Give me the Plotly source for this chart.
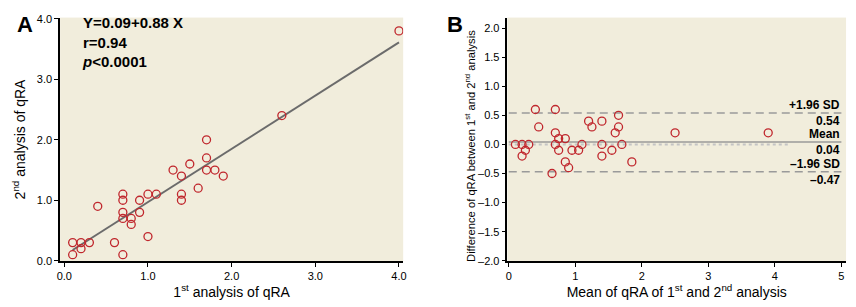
import plotly.graph_objects as go

# Panel A data: 1st vs 2nd analysis of qRA
first_analysis = [0.1, 0.1, 0.2, 0.2, 0.3, 0.4, 0.6, 0.7, 0.7, 0.7, 0.7, 0.7, 0.8, 0.8, 0.9, 0.9,
                  1.0, 1.0, 1.1, 1.3, 1.4, 1.4, 1.4, 1.5, 1.6, 1.7, 1.7, 1.7, 1.8, 1.9, 2.6, 4.0]
second_analysis = [0.3, 0.1, 0.3, 0.2, 0.3, 0.9, 0.3, 1.1, 1.0, 0.8, 0.7, 0.1, 0.7, 0.6, 0.8, 1.0,
                   1.1, 0.4, 1.1, 1.5, 1.4, 1.1, 1.0, 1.6, 1.2, 2.0, 1.7, 1.5, 1.5, 1.4, 2.4, 3.8]
intercept = 0.09
slope = 0.88
fit_x = [0.1, 4.0]

# Panel B data: Bland-Altman
ba_mean = [0.1, 0.2, 0.2, 0.25, 0.3, 0.4, 0.45, 0.7, 0.7, 0.7, 0.75, 0.75, 0.65, 0.85, 0.85, 0.9,
           0.95, 1.05, 1.1, 1.2, 1.25, 1.4, 1.4, 1.4, 1.55, 1.6, 1.65, 1.65, 1.7, 1.85, 2.5, 3.9]
ba_diff = [0.0, 0.0, -0.2, -0.1, 0.0, 0.6, 0.3, 0.6, 0.2, 0.0, 0.1, -0.1, -0.5, 0.1, -0.3, -0.4,
           -0.1, -0.1, 0.0, 0.4, 0.3, 0.4, 0.0, -0.2, -0.1, 0.2, 0.5, 0.3, 0.0, -0.3, 0.2, 0.2]
upper_loa = 0.54
mean_diff = 0.04
lower_loa = -0.47

xticks_a = [0, 1, 2, 3, 4]
xtick_text_a = ["0.0", "1.0", "2.0", "3.0", "4.0"]
yticks_b = [2.0, 1.5, 1.0, 0.5, 0.0, -0.5, -1.0, -1.5, -2.0]
ytick_text_b = ["2.0", "1.5", "1.0", "0.5", "0.0", "\u20130.5", "\u20131.0", "\u20131.5", "\u20132.0"]

FONT = "Liberation Sans, Arial, sans-serif"
BG = "#F1EDDC"
RED = "#C0272D"

marker = dict(symbol="circle-open", size=8, color=RED, line=dict(width=1.3, color=RED))

fig = go.Figure()
fig.add_trace(go.Scatter(x=fit_x, y=[intercept + slope * v for v in fit_x], mode="lines",
                         line=dict(color="#6B6B6B", width=2), xaxis="x", yaxis="y", showlegend=False))
fig.add_trace(go.Scatter(x=first_analysis, y=second_analysis, mode="markers", marker=marker,
                         xaxis="x", yaxis="y", showlegend=False))

# Bland-Altman reference lines
fig.add_trace(go.Scatter(x=[0, 4.2], y=[0, 0], mode="lines",
                         line=dict(color="#C4C4C4", width=2, dash="dot"),
                         xaxis="x2", yaxis="y2", showlegend=False))
fig.add_trace(go.Scatter(x=[0, 5], y=[mean_diff, mean_diff], mode="lines",
                         line=dict(color="#9A9A9A", width=1.5),
                         xaxis="x2", yaxis="y2", showlegend=False))
for v in (upper_loa, lower_loa):
    fig.add_trace(go.Scatter(x=[0, 5], y=[v, v], mode="lines",
                             line=dict(color="#9A9A9A", width=1.5, dash="8px,5px"),
                             xaxis="x2", yaxis="y2", showlegend=False))
fig.add_trace(go.Scatter(x=ba_mean, y=ba_diff, mode="markers", marker=marker,
                         xaxis="x2", yaxis="y2", showlegend=False))

axis_common = dict(showline=True, linecolor="black", linewidth=1.5, ticks="outside",
                   ticklen=4, tickwidth=1, tickcolor="black", showgrid=False, zeroline=False,
                   tickfont=dict(family=FONT, size=11, color="black"))

W, H = 856, 307
fig.update_layout(
    width=W, height=H, margin=dict(l=0, r=0, t=0, b=0),
    paper_bgcolor="white", plot_bgcolor=BG,
    font=dict(family=FONT, color="black"),
    xaxis=dict(domain=[57.5 / W, 403 / W], range=[-0.05, 4.05], anchor="y",
               tickvals=xticks_a, ticktext=xtick_text_a,
               title=dict(text="1<sup>st</sup> analysis of qRA", font=dict(size=14), standoff=3),
               **axis_common),
    yaxis=dict(domain=[1 - 265 / H, 1 - 13 / H], range=[-0.01, 4.02], anchor="x",
               tickvals=xticks_a, ticktext=xtick_text_a,
               title=dict(text="2<sup>nd</sup> analysis of qRA", font=dict(size=14), standoff=8),
               **axis_common),
    xaxis2=dict(domain=[508 / W, 849 / W], range=[-0.02, 5.07], anchor="y2",
                tickvals=[0, 1, 2, 3, 4, 5],
                title=dict(text="Mean of qRA of 1<sup>st</sup> and 2<sup>nd</sup> analysis",
                           font=dict(size=14), standoff=3),
                **axis_common),
    yaxis2=dict(domain=[1 - 265 / H, 1 - 13 / H], range=[-2.01, 2.18], anchor="x2",
                tickvals=yticks_b, ticktext=ytick_text_b,
                **axis_common),
)

bold = dict(family=FONT, size=15, color="black")
annotations = [
    dict(text="<b>A</b>", x=12 / W, y=1 - 5 / H, xref="paper", yref="paper", xanchor="left",
         yanchor="top", showarrow=False, font=dict(family=FONT, size=22)),
    dict(text="<b>B</b>", x=445 / W, y=1 - 5 / H, xref="paper", yref="paper", xanchor="left",
         yanchor="top", showarrow=False, font=dict(family=FONT, size=22)),
    dict(text="<b>Y=0.09+0.88 X</b><br><b>r=0.94</b><br><b><i>p</i><0.0001</b>",
         x=78 / W, y=1 - 7 / H, xref="paper", yref="paper", xanchor="left", yanchor="top",
         align="left", showarrow=False, font=bold),
    dict(text="Difference of qRA between 1<sup>st</sup> and 2<sup>nd</sup> analysis",
         textangle=-90, x=471 / W, y=1 - 146 / H, xref="paper", yref="paper",
         xanchor="center", yanchor="middle", showarrow=False,
         font=dict(family=FONT, size=11.2, color="black")),
]
labels_b = [
    ("+1.96 SD", upper_loa, "bottom"), ("0.54", upper_loa, "top"),
    ("Mean", mean_diff, "bottom"), ("0.04", mean_diff, "top"),
    ("\u20131.96 SD", lower_loa, "bottom"), ("\u20130.47", lower_loa, "top"),
]
for txt, yv, anc in labels_b:
    annotations.append(dict(text="<b>" + txt + "</b>", x=5.0, y=yv, xref="x2", yref="y2",
                            xanchor="right", yanchor=anc, showarrow=False,
                            yshift=0, borderpad=0,
                            font=dict(family=FONT, size=12, color="black")))
fig.update_layout(annotations=annotations)

fig.write_html("out.html")
